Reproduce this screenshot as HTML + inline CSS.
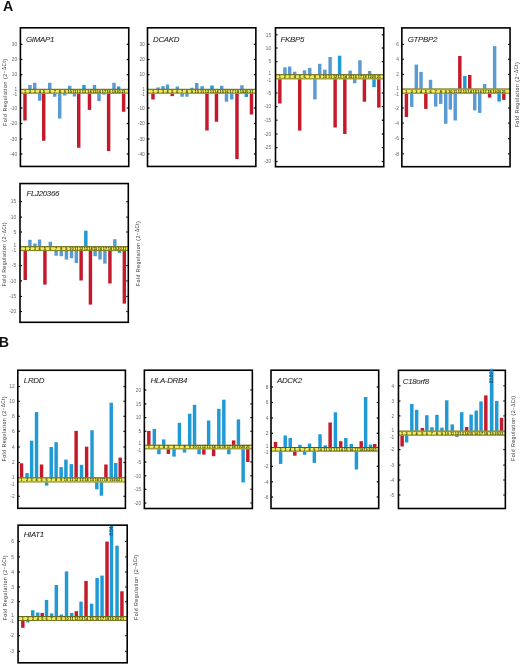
<!DOCTYPE html><html><head><meta charset="utf-8"><style>html,body{margin:0;padding:0;background:#fff;}body{width:520px;height:664px;overflow:hidden;position:relative;}svg{position:absolute;left:0;top:0;filter:blur(0.3px);}text{font-family:"Liberation Sans",sans-serif;}</style></head><body>
<svg width="520" height="664" viewBox="0 0 520 664">
<rect x="0" y="0" width="520" height="664" fill="#fff"/>
<text x="3.0" y="10.9" font-size="14.2" font-weight="bold" fill="#111">A</text>
<text x="-1.2" y="347.2" font-size="14.2" font-weight="bold" fill="#111">B</text>
<rect x="23.25" y="93.50" width="3.45" height="27.00" fill="#c41b2c"/>
<rect x="28.25" y="84.90" width="3.45" height="4.10" fill="#5b9bd3"/>
<rect x="33.00" y="82.75" width="3.45" height="6.25" fill="#5b9bd3"/>
<rect x="38.00" y="93.50" width="3.45" height="7.25" fill="#5b9bd3"/>
<rect x="42.00" y="93.50" width="3.45" height="47.25" fill="#c41b2c"/>
<rect x="48.00" y="82.75" width="3.45" height="6.25" fill="#5b9bd3"/>
<rect x="53.00" y="93.50" width="3.45" height="3.25" fill="#5b9bd3"/>
<rect x="58.00" y="93.50" width="3.45" height="25.10" fill="#5b9bd3"/>
<rect x="63.00" y="93.50" width="3.45" height="2.00" fill="#5b9bd3"/>
<rect x="68.00" y="85.75" width="3.45" height="3.25" fill="#5b9bd3"/>
<rect x="72.75" y="93.50" width="3.45" height="3.00" fill="#5b9bd3"/>
<rect x="77.00" y="93.50" width="3.45" height="54.25" fill="#c41b2c"/>
<rect x="82.25" y="84.90" width="3.45" height="4.10" fill="#1f9ad4"/>
<rect x="87.75" y="93.50" width="3.45" height="16.40" fill="#c41b2c"/>
<rect x="92.75" y="84.90" width="3.45" height="4.10" fill="#5b9bd3"/>
<rect x="97.25" y="93.50" width="3.45" height="7.60" fill="#5b9bd3"/>
<rect x="102.25" y="93.50" width="3.45" height="1.10" fill="#5b9bd3"/>
<rect x="106.90" y="93.50" width="3.45" height="57.60" fill="#c41b2c"/>
<rect x="112.25" y="82.75" width="3.45" height="6.25" fill="#5b9bd3"/>
<rect x="116.90" y="86.50" width="3.45" height="2.50" fill="#1f9ad4"/>
<rect x="121.90" y="93.50" width="3.45" height="18.25" fill="#c41b2c"/>
<rect x="20.40" y="89.00" width="108.35" height="4.50" fill="#f0ec5a"/>
<rect x="20.40" y="88.80" width="108.35" height="1.0" fill="#5a5c18"/>
<rect x="20.40" y="92.70" width="108.35" height="0.9" fill="#6a6c20"/>
<text x="24.98" y="92.65" font-size="3.9" text-anchor="middle" fill="#323a0a" font-weight="bold">1</text>
<text x="29.98" y="92.65" font-size="3.9" text-anchor="middle" fill="#323a0a" font-weight="bold">2</text>
<text x="34.73" y="92.65" font-size="3.9" text-anchor="middle" fill="#323a0a" font-weight="bold">3</text>
<text x="39.73" y="92.65" font-size="3.9" text-anchor="middle" fill="#323a0a" font-weight="bold">4</text>
<text x="43.73" y="92.65" font-size="3.9" text-anchor="middle" fill="#323a0a" font-weight="bold">5</text>
<text x="49.73" y="92.65" font-size="3.9" text-anchor="middle" fill="#323a0a" font-weight="bold">6</text>
<text x="54.73" y="92.65" font-size="3.9" text-anchor="middle" fill="#323a0a" font-weight="bold">7</text>
<text x="59.73" y="92.65" font-size="3.9" text-anchor="middle" fill="#323a0a" font-weight="bold">8</text>
<text x="64.72" y="92.65" font-size="3.9" text-anchor="middle" fill="#323a0a" font-weight="bold">9</text>
<text x="69.72" y="92.65" font-size="3.9" text-anchor="middle" fill="#323a0a" font-weight="bold">10</text>
<text x="74.47" y="92.65" font-size="3.9" text-anchor="middle" fill="#323a0a" font-weight="bold">11</text>
<text x="78.72" y="92.65" font-size="3.9" text-anchor="middle" fill="#323a0a" font-weight="bold">12</text>
<text x="83.97" y="92.65" font-size="3.9" text-anchor="middle" fill="#323a0a" font-weight="bold">13</text>
<text x="89.47" y="92.65" font-size="3.9" text-anchor="middle" fill="#323a0a" font-weight="bold">14</text>
<text x="94.47" y="92.65" font-size="3.9" text-anchor="middle" fill="#323a0a" font-weight="bold">15</text>
<text x="98.97" y="92.65" font-size="3.9" text-anchor="middle" fill="#323a0a" font-weight="bold">16</text>
<text x="103.97" y="92.65" font-size="3.9" text-anchor="middle" fill="#323a0a" font-weight="bold">17</text>
<text x="108.62" y="92.65" font-size="3.9" text-anchor="middle" fill="#323a0a" font-weight="bold">18</text>
<text x="113.97" y="92.65" font-size="3.9" text-anchor="middle" fill="#323a0a" font-weight="bold">19</text>
<text x="118.62" y="92.65" font-size="3.9" text-anchor="middle" fill="#323a0a" font-weight="bold">20</text>
<text x="123.62" y="92.65" font-size="3.9" text-anchor="middle" fill="#323a0a" font-weight="bold">21</text>
<rect x="20.40" y="27.80" width="108.35" height="138.65" fill="none" stroke="#000" stroke-width="1.6"/>
<text x="17.10" y="46.00" font-size="4.8" text-anchor="end" fill="#666">30</text>
<rect x="21.00" y="43.70" width="1.4" height="1.2" fill="#000"/>
<rect x="126.75" y="43.70" width="1.4" height="1.2" fill="#000"/>
<text x="17.10" y="61.20" font-size="4.8" text-anchor="end" fill="#666">20</text>
<rect x="21.00" y="58.90" width="1.4" height="1.2" fill="#000"/>
<rect x="126.75" y="58.90" width="1.4" height="1.2" fill="#000"/>
<text x="17.10" y="76.40" font-size="4.8" text-anchor="end" fill="#666">10</text>
<rect x="21.00" y="74.10" width="1.4" height="1.2" fill="#000"/>
<rect x="126.75" y="74.10" width="1.4" height="1.2" fill="#000"/>
<text x="17.10" y="90.70" font-size="4.8" text-anchor="end" fill="#666">1</text>
<text x="17.10" y="95.50" font-size="4.8" text-anchor="end" fill="#666">-1</text>
<text x="17.10" y="109.70" font-size="4.8" text-anchor="end" fill="#666">-10</text>
<rect x="21.00" y="107.40" width="1.4" height="1.2" fill="#000"/>
<rect x="126.75" y="107.40" width="1.4" height="1.2" fill="#000"/>
<text x="17.10" y="125.20" font-size="4.8" text-anchor="end" fill="#666">-20</text>
<rect x="21.00" y="122.90" width="1.4" height="1.2" fill="#000"/>
<rect x="126.75" y="122.90" width="1.4" height="1.2" fill="#000"/>
<text x="17.10" y="140.70" font-size="4.8" text-anchor="end" fill="#666">-30</text>
<rect x="21.00" y="138.40" width="1.4" height="1.2" fill="#000"/>
<rect x="126.75" y="138.40" width="1.4" height="1.2" fill="#000"/>
<text x="17.10" y="155.70" font-size="4.8" text-anchor="end" fill="#666">-40</text>
<rect x="21.00" y="153.40" width="1.4" height="1.2" fill="#000"/>
<rect x="126.75" y="153.40" width="1.4" height="1.2" fill="#000"/>
<text x="26.00" y="41.60" font-size="7.9" letter-spacing="-0.3" font-style="italic" fill="#1e1e1e" stroke="#1e1e1e" stroke-width="0.06">GIMAP1</text>
<rect x="151.25" y="93.50" width="3.45" height="6.00" fill="#c41b2c"/>
<rect x="156.40" y="87.40" width="3.45" height="1.60" fill="#5b9bd3"/>
<rect x="161.25" y="86.10" width="3.45" height="2.90" fill="#5b9bd3"/>
<rect x="165.80" y="84.50" width="3.45" height="4.50" fill="#5b9bd3"/>
<rect x="170.50" y="93.50" width="3.45" height="2.60" fill="#c41b2c"/>
<rect x="175.60" y="86.50" width="3.45" height="2.50" fill="#5b9bd3"/>
<rect x="180.40" y="93.50" width="3.45" height="3.25" fill="#5b9bd3"/>
<rect x="185.20" y="93.50" width="3.45" height="3.25" fill="#5b9bd3"/>
<rect x="190.20" y="87.75" width="3.45" height="1.25" fill="#5b9bd3"/>
<rect x="195.00" y="83.00" width="3.45" height="6.00" fill="#5b9bd3"/>
<rect x="200.40" y="86.10" width="3.45" height="2.90" fill="#5b9bd3"/>
<rect x="205.25" y="93.50" width="3.45" height="37.00" fill="#c41b2c"/>
<rect x="210.25" y="85.50" width="3.45" height="3.50" fill="#1f9ad4"/>
<rect x="214.75" y="93.50" width="3.45" height="28.25" fill="#c41b2c"/>
<rect x="220.00" y="85.75" width="3.45" height="3.25" fill="#5b9bd3"/>
<rect x="224.75" y="93.50" width="3.45" height="8.25" fill="#5b9bd3"/>
<rect x="230.00" y="93.50" width="3.45" height="6.00" fill="#5b9bd3"/>
<rect x="235.25" y="93.50" width="3.45" height="65.50" fill="#c41b2c"/>
<rect x="240.20" y="85.25" width="3.45" height="3.75" fill="#5b9bd3"/>
<rect x="244.60" y="93.50" width="3.45" height="3.50" fill="#1f9ad4"/>
<rect x="249.75" y="93.50" width="3.45" height="21.00" fill="#c41b2c"/>
<rect x="147.50" y="89.00" width="108.35" height="4.50" fill="#f0ec5a"/>
<rect x="147.50" y="88.80" width="108.35" height="1.0" fill="#5a5c18"/>
<rect x="147.50" y="92.70" width="108.35" height="0.9" fill="#6a6c20"/>
<text x="152.97" y="92.65" font-size="3.9" text-anchor="middle" fill="#323a0a" font-weight="bold">1</text>
<text x="158.12" y="92.65" font-size="3.9" text-anchor="middle" fill="#323a0a" font-weight="bold">2</text>
<text x="162.97" y="92.65" font-size="3.9" text-anchor="middle" fill="#323a0a" font-weight="bold">3</text>
<text x="167.53" y="92.65" font-size="3.9" text-anchor="middle" fill="#323a0a" font-weight="bold">4</text>
<text x="172.22" y="92.65" font-size="3.9" text-anchor="middle" fill="#323a0a" font-weight="bold">5</text>
<text x="177.32" y="92.65" font-size="3.9" text-anchor="middle" fill="#323a0a" font-weight="bold">6</text>
<text x="182.12" y="92.65" font-size="3.9" text-anchor="middle" fill="#323a0a" font-weight="bold">7</text>
<text x="186.92" y="92.65" font-size="3.9" text-anchor="middle" fill="#323a0a" font-weight="bold">8</text>
<text x="191.92" y="92.65" font-size="3.9" text-anchor="middle" fill="#323a0a" font-weight="bold">9</text>
<text x="196.72" y="92.65" font-size="3.9" text-anchor="middle" fill="#323a0a" font-weight="bold">10</text>
<text x="202.12" y="92.65" font-size="3.9" text-anchor="middle" fill="#323a0a" font-weight="bold">11</text>
<text x="206.97" y="92.65" font-size="3.9" text-anchor="middle" fill="#323a0a" font-weight="bold">12</text>
<text x="211.97" y="92.65" font-size="3.9" text-anchor="middle" fill="#323a0a" font-weight="bold">13</text>
<text x="216.47" y="92.65" font-size="3.9" text-anchor="middle" fill="#323a0a" font-weight="bold">14</text>
<text x="221.72" y="92.65" font-size="3.9" text-anchor="middle" fill="#323a0a" font-weight="bold">15</text>
<text x="226.47" y="92.65" font-size="3.9" text-anchor="middle" fill="#323a0a" font-weight="bold">16</text>
<text x="231.72" y="92.65" font-size="3.9" text-anchor="middle" fill="#323a0a" font-weight="bold">17</text>
<text x="236.97" y="92.65" font-size="3.9" text-anchor="middle" fill="#323a0a" font-weight="bold">18</text>
<text x="241.92" y="92.65" font-size="3.9" text-anchor="middle" fill="#323a0a" font-weight="bold">19</text>
<text x="246.32" y="92.65" font-size="3.9" text-anchor="middle" fill="#323a0a" font-weight="bold">20</text>
<text x="251.47" y="92.65" font-size="3.9" text-anchor="middle" fill="#323a0a" font-weight="bold">21</text>
<rect x="147.50" y="27.80" width="108.35" height="138.65" fill="none" stroke="#000" stroke-width="1.6"/>
<text x="144.80" y="46.00" font-size="4.8" text-anchor="end" fill="#666">30</text>
<rect x="148.10" y="43.70" width="1.4" height="1.2" fill="#000"/>
<rect x="253.85" y="43.70" width="1.4" height="1.2" fill="#000"/>
<text x="144.80" y="61.20" font-size="4.8" text-anchor="end" fill="#666">20</text>
<rect x="148.10" y="58.90" width="1.4" height="1.2" fill="#000"/>
<rect x="253.85" y="58.90" width="1.4" height="1.2" fill="#000"/>
<text x="144.80" y="76.40" font-size="4.8" text-anchor="end" fill="#666">10</text>
<rect x="148.10" y="74.10" width="1.4" height="1.2" fill="#000"/>
<rect x="253.85" y="74.10" width="1.4" height="1.2" fill="#000"/>
<text x="144.80" y="90.70" font-size="4.8" text-anchor="end" fill="#666">1</text>
<text x="144.80" y="95.50" font-size="4.8" text-anchor="end" fill="#666">-1</text>
<text x="144.80" y="109.70" font-size="4.8" text-anchor="end" fill="#666">-10</text>
<rect x="148.10" y="107.40" width="1.4" height="1.2" fill="#000"/>
<rect x="253.85" y="107.40" width="1.4" height="1.2" fill="#000"/>
<text x="144.80" y="125.20" font-size="4.8" text-anchor="end" fill="#666">-20</text>
<rect x="148.10" y="122.90" width="1.4" height="1.2" fill="#000"/>
<rect x="253.85" y="122.90" width="1.4" height="1.2" fill="#000"/>
<text x="144.80" y="140.70" font-size="4.8" text-anchor="end" fill="#666">-30</text>
<rect x="148.10" y="138.40" width="1.4" height="1.2" fill="#000"/>
<rect x="253.85" y="138.40" width="1.4" height="1.2" fill="#000"/>
<text x="144.80" y="155.70" font-size="4.8" text-anchor="end" fill="#666">-40</text>
<rect x="148.10" y="153.40" width="1.4" height="1.2" fill="#000"/>
<rect x="253.85" y="153.40" width="1.4" height="1.2" fill="#000"/>
<text x="153.00" y="41.60" font-size="7.9" letter-spacing="-0.3" font-style="italic" fill="#1e1e1e" stroke="#1e1e1e" stroke-width="0.06">DCAKD</text>
<rect x="278.10" y="79.20" width="3.45" height="24.30" fill="#c41b2c"/>
<rect x="283.20" y="67.30" width="3.45" height="7.10" fill="#5b9bd3"/>
<rect x="287.90" y="66.50" width="3.45" height="7.90" fill="#5b9bd3"/>
<rect x="293.00" y="71.70" width="3.45" height="2.70" fill="#5b9bd3"/>
<rect x="298.00" y="79.20" width="3.45" height="51.40" fill="#c41b2c"/>
<rect x="302.80" y="70.30" width="3.45" height="4.10" fill="#5b9bd3"/>
<rect x="308.00" y="67.90" width="3.45" height="6.50" fill="#5b9bd3"/>
<rect x="313.20" y="79.20" width="3.45" height="20.20" fill="#5b9bd3"/>
<rect x="318.00" y="63.80" width="3.45" height="10.60" fill="#5b9bd3"/>
<rect x="323.10" y="69.60" width="3.45" height="4.80" fill="#5b9bd3"/>
<rect x="328.40" y="57.00" width="3.45" height="17.40" fill="#5b9bd3"/>
<rect x="333.40" y="79.20" width="3.45" height="48.30" fill="#c41b2c"/>
<rect x="337.90" y="55.70" width="3.45" height="18.70" fill="#1f9ad4"/>
<rect x="343.10" y="79.20" width="3.45" height="54.80" fill="#c41b2c"/>
<rect x="348.40" y="70.60" width="3.45" height="3.80" fill="#5b9bd3"/>
<rect x="353.00" y="79.20" width="3.45" height="4.00" fill="#5b9bd3"/>
<rect x="358.20" y="60.20" width="3.45" height="14.20" fill="#5b9bd3"/>
<rect x="362.70" y="79.20" width="3.45" height="22.50" fill="#c41b2c"/>
<rect x="367.90" y="71.00" width="3.45" height="3.40" fill="#5b9bd3"/>
<rect x="372.30" y="79.20" width="3.45" height="8.00" fill="#1f9ad4"/>
<rect x="377.10" y="79.20" width="3.45" height="28.40" fill="#c41b2c"/>
<rect x="275.50" y="74.40" width="108.25" height="4.80" fill="#f0ec5a"/>
<rect x="275.50" y="74.20" width="108.25" height="1.0" fill="#5a5c18"/>
<rect x="275.50" y="78.40" width="108.25" height="0.9" fill="#6a6c20"/>
<text x="279.83" y="78.20" font-size="3.9" text-anchor="middle" fill="#323a0a" font-weight="bold">1</text>
<text x="284.93" y="78.20" font-size="3.9" text-anchor="middle" fill="#323a0a" font-weight="bold">2</text>
<text x="289.62" y="78.20" font-size="3.9" text-anchor="middle" fill="#323a0a" font-weight="bold">3</text>
<text x="294.73" y="78.20" font-size="3.9" text-anchor="middle" fill="#323a0a" font-weight="bold">4</text>
<text x="299.73" y="78.20" font-size="3.9" text-anchor="middle" fill="#323a0a" font-weight="bold">5</text>
<text x="304.53" y="78.20" font-size="3.9" text-anchor="middle" fill="#323a0a" font-weight="bold">6</text>
<text x="309.73" y="78.20" font-size="3.9" text-anchor="middle" fill="#323a0a" font-weight="bold">7</text>
<text x="314.93" y="78.20" font-size="3.9" text-anchor="middle" fill="#323a0a" font-weight="bold">8</text>
<text x="319.73" y="78.20" font-size="3.9" text-anchor="middle" fill="#323a0a" font-weight="bold">9</text>
<text x="324.83" y="78.20" font-size="3.9" text-anchor="middle" fill="#323a0a" font-weight="bold">10</text>
<text x="330.12" y="78.20" font-size="3.9" text-anchor="middle" fill="#323a0a" font-weight="bold">11</text>
<text x="335.12" y="78.20" font-size="3.9" text-anchor="middle" fill="#323a0a" font-weight="bold">12</text>
<text x="339.62" y="78.20" font-size="3.9" text-anchor="middle" fill="#323a0a" font-weight="bold">13</text>
<text x="344.83" y="78.20" font-size="3.9" text-anchor="middle" fill="#323a0a" font-weight="bold">14</text>
<text x="350.12" y="78.20" font-size="3.9" text-anchor="middle" fill="#323a0a" font-weight="bold">15</text>
<text x="354.73" y="78.20" font-size="3.9" text-anchor="middle" fill="#323a0a" font-weight="bold">16</text>
<text x="359.93" y="78.20" font-size="3.9" text-anchor="middle" fill="#323a0a" font-weight="bold">17</text>
<text x="364.43" y="78.20" font-size="3.9" text-anchor="middle" fill="#323a0a" font-weight="bold">18</text>
<text x="369.62" y="78.20" font-size="3.9" text-anchor="middle" fill="#323a0a" font-weight="bold">19</text>
<text x="374.03" y="78.20" font-size="3.9" text-anchor="middle" fill="#323a0a" font-weight="bold">20</text>
<text x="378.83" y="78.20" font-size="3.9" text-anchor="middle" fill="#323a0a" font-weight="bold">21</text>
<rect x="275.50" y="27.80" width="108.25" height="138.90" fill="none" stroke="#000" stroke-width="1.6"/>
<text x="271.20" y="36.50" font-size="4.8" text-anchor="end" fill="#666">15</text>
<rect x="276.10" y="34.20" width="1.4" height="1.2" fill="#000"/>
<rect x="381.75" y="34.20" width="1.4" height="1.2" fill="#000"/>
<text x="271.20" y="49.70" font-size="4.8" text-anchor="end" fill="#666">10</text>
<rect x="276.10" y="47.40" width="1.4" height="1.2" fill="#000"/>
<rect x="381.75" y="47.40" width="1.4" height="1.2" fill="#000"/>
<text x="271.20" y="63.40" font-size="4.8" text-anchor="end" fill="#666">5</text>
<rect x="276.10" y="61.10" width="1.4" height="1.2" fill="#000"/>
<rect x="381.75" y="61.10" width="1.4" height="1.2" fill="#000"/>
<text x="271.20" y="74.70" font-size="4.8" text-anchor="end" fill="#666">1</text>
<text x="271.20" y="81.90" font-size="4.8" text-anchor="end" fill="#666">-1</text>
<text x="271.20" y="94.70" font-size="4.8" text-anchor="end" fill="#666">-5</text>
<rect x="276.10" y="92.40" width="1.4" height="1.2" fill="#000"/>
<rect x="381.75" y="92.40" width="1.4" height="1.2" fill="#000"/>
<text x="271.20" y="108.30" font-size="4.8" text-anchor="end" fill="#666">-10</text>
<rect x="276.10" y="106.00" width="1.4" height="1.2" fill="#000"/>
<rect x="381.75" y="106.00" width="1.4" height="1.2" fill="#000"/>
<text x="271.20" y="121.90" font-size="4.8" text-anchor="end" fill="#666">-15</text>
<rect x="276.10" y="119.60" width="1.4" height="1.2" fill="#000"/>
<rect x="381.75" y="119.60" width="1.4" height="1.2" fill="#000"/>
<text x="271.20" y="135.70" font-size="4.8" text-anchor="end" fill="#666">-20</text>
<rect x="276.10" y="133.40" width="1.4" height="1.2" fill="#000"/>
<rect x="381.75" y="133.40" width="1.4" height="1.2" fill="#000"/>
<text x="271.20" y="149.30" font-size="4.8" text-anchor="end" fill="#666">-25</text>
<rect x="276.10" y="147.00" width="1.4" height="1.2" fill="#000"/>
<rect x="381.75" y="147.00" width="1.4" height="1.2" fill="#000"/>
<text x="271.20" y="163.20" font-size="4.8" text-anchor="end" fill="#666">-30</text>
<rect x="276.10" y="160.90" width="1.4" height="1.2" fill="#000"/>
<rect x="381.75" y="160.90" width="1.4" height="1.2" fill="#000"/>
<text x="280.60" y="41.60" font-size="7.9" letter-spacing="-0.3" font-style="italic" fill="#1e1e1e" stroke="#1e1e1e" stroke-width="0.06">FKBP5</text>
<rect x="404.70" y="93.50" width="3.45" height="23.50" fill="#c41b2c"/>
<rect x="410.00" y="93.50" width="3.45" height="13.40" fill="#5b9bd3"/>
<rect x="414.60" y="64.60" width="3.45" height="24.10" fill="#5b9bd3"/>
<rect x="419.30" y="71.90" width="3.45" height="16.80" fill="#5b9bd3"/>
<rect x="424.10" y="93.50" width="3.45" height="15.40" fill="#c41b2c"/>
<rect x="428.80" y="79.80" width="3.45" height="8.90" fill="#5b9bd3"/>
<rect x="434.00" y="93.50" width="3.45" height="13.10" fill="#5b9bd3"/>
<rect x="439.00" y="93.50" width="3.45" height="10.40" fill="#5b9bd3"/>
<rect x="444.00" y="93.50" width="3.45" height="30.30" fill="#5b9bd3"/>
<rect x="448.60" y="93.50" width="3.45" height="16.10" fill="#5b9bd3"/>
<rect x="453.50" y="93.50" width="3.45" height="27.00" fill="#5b9bd3"/>
<rect x="458.10" y="56.00" width="3.45" height="32.70" fill="#c41b2c"/>
<rect x="463.10" y="75.90" width="3.45" height="12.80" fill="#1f9ad4"/>
<rect x="468.00" y="74.90" width="3.45" height="13.80" fill="#c41b2c"/>
<rect x="473.00" y="93.50" width="3.45" height="16.90" fill="#5b9bd3"/>
<rect x="478.00" y="93.50" width="3.45" height="19.40" fill="#5b9bd3"/>
<rect x="482.90" y="84.00" width="3.45" height="4.70" fill="#5b9bd3"/>
<rect x="487.90" y="93.50" width="3.45" height="4.10" fill="#c41b2c"/>
<rect x="492.90" y="46.10" width="3.45" height="42.60" fill="#5b9bd3"/>
<rect x="497.40" y="93.50" width="3.45" height="8.10" fill="#1f9ad4"/>
<rect x="502.10" y="93.50" width="3.45" height="6.40" fill="#c41b2c"/>
<rect x="401.85" y="88.70" width="108.20" height="4.80" fill="#f0ec5a"/>
<rect x="401.85" y="88.50" width="108.20" height="1.0" fill="#5a5c18"/>
<rect x="401.85" y="92.70" width="108.20" height="0.9" fill="#6a6c20"/>
<text x="406.43" y="92.50" font-size="3.9" text-anchor="middle" fill="#323a0a" font-weight="bold">1</text>
<text x="411.73" y="92.50" font-size="3.9" text-anchor="middle" fill="#323a0a" font-weight="bold">2</text>
<text x="416.33" y="92.50" font-size="3.9" text-anchor="middle" fill="#323a0a" font-weight="bold">3</text>
<text x="421.03" y="92.50" font-size="3.9" text-anchor="middle" fill="#323a0a" font-weight="bold">4</text>
<text x="425.83" y="92.50" font-size="3.9" text-anchor="middle" fill="#323a0a" font-weight="bold">5</text>
<text x="430.53" y="92.50" font-size="3.9" text-anchor="middle" fill="#323a0a" font-weight="bold">6</text>
<text x="435.73" y="92.50" font-size="3.9" text-anchor="middle" fill="#323a0a" font-weight="bold">7</text>
<text x="440.73" y="92.50" font-size="3.9" text-anchor="middle" fill="#323a0a" font-weight="bold">8</text>
<text x="445.73" y="92.50" font-size="3.9" text-anchor="middle" fill="#323a0a" font-weight="bold">9</text>
<text x="450.33" y="92.50" font-size="3.9" text-anchor="middle" fill="#323a0a" font-weight="bold">10</text>
<text x="455.23" y="92.50" font-size="3.9" text-anchor="middle" fill="#323a0a" font-weight="bold">11</text>
<text x="459.83" y="92.50" font-size="3.9" text-anchor="middle" fill="#323a0a" font-weight="bold">12</text>
<text x="464.83" y="92.50" font-size="3.9" text-anchor="middle" fill="#323a0a" font-weight="bold">13</text>
<text x="469.73" y="92.50" font-size="3.9" text-anchor="middle" fill="#323a0a" font-weight="bold">14</text>
<text x="474.73" y="92.50" font-size="3.9" text-anchor="middle" fill="#323a0a" font-weight="bold">15</text>
<text x="479.73" y="92.50" font-size="3.9" text-anchor="middle" fill="#323a0a" font-weight="bold">16</text>
<text x="484.62" y="92.50" font-size="3.9" text-anchor="middle" fill="#323a0a" font-weight="bold">17</text>
<text x="489.62" y="92.50" font-size="3.9" text-anchor="middle" fill="#323a0a" font-weight="bold">18</text>
<text x="494.62" y="92.50" font-size="3.9" text-anchor="middle" fill="#323a0a" font-weight="bold">19</text>
<text x="499.12" y="92.50" font-size="3.9" text-anchor="middle" fill="#323a0a" font-weight="bold">20</text>
<text x="503.83" y="92.50" font-size="3.9" text-anchor="middle" fill="#323a0a" font-weight="bold">21</text>
<rect x="401.85" y="27.90" width="108.20" height="138.80" fill="none" stroke="#000" stroke-width="1.6"/>
<text x="398.85" y="46.10" font-size="4.8" text-anchor="end" fill="#666">6</text>
<rect x="402.45" y="43.80" width="1.4" height="1.2" fill="#000"/>
<rect x="508.05" y="43.80" width="1.4" height="1.2" fill="#000"/>
<text x="398.85" y="60.90" font-size="4.8" text-anchor="end" fill="#666">4</text>
<rect x="402.45" y="58.60" width="1.4" height="1.2" fill="#000"/>
<rect x="508.05" y="58.60" width="1.4" height="1.2" fill="#000"/>
<text x="398.85" y="76.10" font-size="4.8" text-anchor="end" fill="#666">2</text>
<rect x="402.45" y="73.80" width="1.4" height="1.2" fill="#000"/>
<rect x="508.05" y="73.80" width="1.4" height="1.2" fill="#000"/>
<text x="398.85" y="90.30" font-size="4.8" text-anchor="end" fill="#666">1</text>
<text x="398.85" y="95.50" font-size="4.8" text-anchor="end" fill="#666">-1</text>
<text x="398.85" y="109.70" font-size="4.8" text-anchor="end" fill="#666">-2</text>
<rect x="402.45" y="107.40" width="1.4" height="1.2" fill="#000"/>
<rect x="508.05" y="107.40" width="1.4" height="1.2" fill="#000"/>
<text x="398.85" y="124.80" font-size="4.8" text-anchor="end" fill="#666">-4</text>
<rect x="402.45" y="122.50" width="1.4" height="1.2" fill="#000"/>
<rect x="508.05" y="122.50" width="1.4" height="1.2" fill="#000"/>
<text x="398.85" y="140.40" font-size="4.8" text-anchor="end" fill="#666">-6</text>
<rect x="402.45" y="138.10" width="1.4" height="1.2" fill="#000"/>
<rect x="508.05" y="138.10" width="1.4" height="1.2" fill="#000"/>
<text x="398.85" y="155.50" font-size="4.8" text-anchor="end" fill="#666">-8</text>
<rect x="402.45" y="153.20" width="1.4" height="1.2" fill="#000"/>
<rect x="508.05" y="153.20" width="1.4" height="1.2" fill="#000"/>
<text x="407.70" y="41.60" font-size="7.9" letter-spacing="-0.3" font-style="italic" fill="#1e1e1e" stroke="#1e1e1e" stroke-width="0.06">GTPBP2</text>
<rect x="23.50" y="251.00" width="3.45" height="29.00" fill="#c41b2c"/>
<rect x="28.20" y="239.80" width="3.45" height="6.60" fill="#5b9bd3"/>
<rect x="33.20" y="243.50" width="3.45" height="2.90" fill="#5b9bd3"/>
<rect x="37.80" y="239.50" width="3.45" height="6.90" fill="#5b9bd3"/>
<rect x="43.20" y="251.00" width="3.45" height="33.60" fill="#c41b2c"/>
<rect x="48.60" y="241.80" width="3.45" height="4.60" fill="#5b9bd3"/>
<rect x="54.40" y="251.00" width="3.45" height="4.70" fill="#5b9bd3"/>
<rect x="59.60" y="251.00" width="3.45" height="5.20" fill="#5b9bd3"/>
<rect x="64.70" y="251.00" width="3.45" height="8.60" fill="#5b9bd3"/>
<rect x="69.80" y="251.00" width="3.45" height="7.20" fill="#5b9bd3"/>
<rect x="74.60" y="251.00" width="3.45" height="12.00" fill="#5b9bd3"/>
<rect x="79.40" y="251.00" width="3.45" height="29.50" fill="#c41b2c"/>
<rect x="84.10" y="230.70" width="3.45" height="15.70" fill="#1f9ad4"/>
<rect x="88.70" y="251.00" width="3.45" height="53.60" fill="#c41b2c"/>
<rect x="93.40" y="251.00" width="3.45" height="5.20" fill="#5b9bd3"/>
<rect x="98.30" y="251.00" width="3.45" height="8.50" fill="#5b9bd3"/>
<rect x="103.20" y="251.00" width="3.45" height="12.60" fill="#5b9bd3"/>
<rect x="108.20" y="251.00" width="3.45" height="32.50" fill="#c41b2c"/>
<rect x="113.10" y="239.20" width="3.45" height="7.20" fill="#5b9bd3"/>
<rect x="117.80" y="251.00" width="3.45" height="1.80" fill="#1f9ad4"/>
<rect x="122.60" y="251.00" width="3.45" height="52.60" fill="#c41b2c"/>
<rect x="20.00" y="246.40" width="108.30" height="4.60" fill="#f0ec5a"/>
<rect x="20.00" y="246.20" width="108.30" height="1.0" fill="#5a5c18"/>
<rect x="20.00" y="250.20" width="108.30" height="0.9" fill="#6a6c20"/>
<text x="25.23" y="250.10" font-size="3.9" text-anchor="middle" fill="#323a0a" font-weight="bold">1</text>
<text x="29.93" y="250.10" font-size="3.9" text-anchor="middle" fill="#323a0a" font-weight="bold">2</text>
<text x="34.93" y="250.10" font-size="3.9" text-anchor="middle" fill="#323a0a" font-weight="bold">3</text>
<text x="39.52" y="250.10" font-size="3.9" text-anchor="middle" fill="#323a0a" font-weight="bold">4</text>
<text x="44.93" y="250.10" font-size="3.9" text-anchor="middle" fill="#323a0a" font-weight="bold">5</text>
<text x="50.33" y="250.10" font-size="3.9" text-anchor="middle" fill="#323a0a" font-weight="bold">6</text>
<text x="56.12" y="250.10" font-size="3.9" text-anchor="middle" fill="#323a0a" font-weight="bold">7</text>
<text x="61.33" y="250.10" font-size="3.9" text-anchor="middle" fill="#323a0a" font-weight="bold">8</text>
<text x="66.42" y="250.10" font-size="3.9" text-anchor="middle" fill="#323a0a" font-weight="bold">9</text>
<text x="71.52" y="250.10" font-size="3.9" text-anchor="middle" fill="#323a0a" font-weight="bold">10</text>
<text x="76.32" y="250.10" font-size="3.9" text-anchor="middle" fill="#323a0a" font-weight="bold">11</text>
<text x="81.12" y="250.10" font-size="3.9" text-anchor="middle" fill="#323a0a" font-weight="bold">12</text>
<text x="85.82" y="250.10" font-size="3.9" text-anchor="middle" fill="#323a0a" font-weight="bold">13</text>
<text x="90.42" y="250.10" font-size="3.9" text-anchor="middle" fill="#323a0a" font-weight="bold">14</text>
<text x="95.12" y="250.10" font-size="3.9" text-anchor="middle" fill="#323a0a" font-weight="bold">15</text>
<text x="100.02" y="250.10" font-size="3.9" text-anchor="middle" fill="#323a0a" font-weight="bold">16</text>
<text x="104.92" y="250.10" font-size="3.9" text-anchor="middle" fill="#323a0a" font-weight="bold">17</text>
<text x="109.92" y="250.10" font-size="3.9" text-anchor="middle" fill="#323a0a" font-weight="bold">18</text>
<text x="114.82" y="250.10" font-size="3.9" text-anchor="middle" fill="#323a0a" font-weight="bold">19</text>
<text x="119.52" y="250.10" font-size="3.9" text-anchor="middle" fill="#323a0a" font-weight="bold">20</text>
<text x="124.32" y="250.10" font-size="3.9" text-anchor="middle" fill="#323a0a" font-weight="bold">21</text>
<rect x="20.00" y="183.55" width="108.30" height="138.75" fill="none" stroke="#000" stroke-width="1.6"/>
<text x="16.10" y="203.30" font-size="4.8" text-anchor="end" fill="#666">15</text>
<rect x="20.60" y="201.00" width="1.4" height="1.2" fill="#000"/>
<rect x="126.30" y="201.00" width="1.4" height="1.2" fill="#000"/>
<text x="16.10" y="218.80" font-size="4.8" text-anchor="end" fill="#666">10</text>
<rect x="20.60" y="216.50" width="1.4" height="1.2" fill="#000"/>
<rect x="126.30" y="216.50" width="1.4" height="1.2" fill="#000"/>
<text x="16.10" y="233.70" font-size="4.8" text-anchor="end" fill="#666">5</text>
<rect x="20.60" y="231.40" width="1.4" height="1.2" fill="#000"/>
<rect x="126.30" y="231.40" width="1.4" height="1.2" fill="#000"/>
<text x="16.10" y="247.10" font-size="4.8" text-anchor="end" fill="#666">1</text>
<text x="16.10" y="252.10" font-size="4.8" text-anchor="end" fill="#666">-1</text>
<text x="16.10" y="267.30" font-size="4.8" text-anchor="end" fill="#666">-5</text>
<rect x="20.60" y="265.00" width="1.4" height="1.2" fill="#000"/>
<rect x="126.30" y="265.00" width="1.4" height="1.2" fill="#000"/>
<text x="16.10" y="282.60" font-size="4.8" text-anchor="end" fill="#666">-10</text>
<rect x="20.60" y="280.30" width="1.4" height="1.2" fill="#000"/>
<rect x="126.30" y="280.30" width="1.4" height="1.2" fill="#000"/>
<text x="16.10" y="298.20" font-size="4.8" text-anchor="end" fill="#666">-15</text>
<rect x="20.60" y="295.90" width="1.4" height="1.2" fill="#000"/>
<rect x="126.30" y="295.90" width="1.4" height="1.2" fill="#000"/>
<text x="16.10" y="313.20" font-size="4.8" text-anchor="end" fill="#666">-20</text>
<rect x="20.60" y="310.90" width="1.4" height="1.2" fill="#000"/>
<rect x="126.30" y="310.90" width="1.4" height="1.2" fill="#000"/>
<text x="26.40" y="196.20" font-size="7.9" letter-spacing="-0.3" font-style="italic" fill="#1e1e1e" stroke="#1e1e1e" stroke-width="0.06">FLJ20366</text>
<rect x="19.80" y="463.30" width="3.45" height="14.20" fill="#c41b2c"/>
<rect x="25.30" y="473.10" width="3.45" height="4.40" fill="#1f9ad4"/>
<rect x="29.90" y="440.70" width="3.45" height="36.80" fill="#1f9ad4"/>
<rect x="34.80" y="412.10" width="3.45" height="65.40" fill="#1f9ad4"/>
<rect x="39.80" y="464.50" width="3.45" height="13.00" fill="#c41b2c"/>
<rect x="44.90" y="482.30" width="3.45" height="3.30" fill="#1f9ad4"/>
<rect x="49.50" y="447.00" width="3.45" height="30.50" fill="#1f9ad4"/>
<rect x="54.40" y="442.20" width="3.45" height="35.30" fill="#1f9ad4"/>
<rect x="59.40" y="467.10" width="3.45" height="10.40" fill="#1f9ad4"/>
<rect x="64.20" y="459.60" width="3.45" height="17.90" fill="#1f9ad4"/>
<rect x="69.60" y="464.10" width="3.45" height="13.40" fill="#1f9ad4"/>
<rect x="74.40" y="430.90" width="3.45" height="46.60" fill="#c41b2c"/>
<rect x="79.80" y="464.80" width="3.45" height="12.70" fill="#1f9ad4"/>
<rect x="84.90" y="446.70" width="3.45" height="30.80" fill="#c41b2c"/>
<rect x="90.30" y="430.20" width="3.45" height="47.30" fill="#1f9ad4"/>
<rect x="95.10" y="482.30" width="3.45" height="7.00" fill="#1f9ad4"/>
<rect x="99.70" y="482.30" width="3.45" height="13.40" fill="#1f9ad4"/>
<rect x="104.20" y="464.50" width="3.45" height="13.00" fill="#c41b2c"/>
<rect x="109.50" y="402.70" width="3.45" height="74.80" fill="#1f9ad4"/>
<rect x="114.00" y="463.00" width="3.45" height="14.50" fill="#1f9ad4"/>
<rect x="118.50" y="457.60" width="3.45" height="19.90" fill="#c41b2c"/>
<rect x="17.80" y="477.50" width="107.60" height="4.80" fill="#f0ec5a"/>
<rect x="17.80" y="477.30" width="107.60" height="1.0" fill="#5a5c18"/>
<rect x="17.80" y="481.50" width="107.60" height="0.9" fill="#6a6c20"/>
<text x="21.53" y="481.30" font-size="3.9" text-anchor="middle" fill="#323a0a" font-weight="bold">1</text>
<text x="27.03" y="481.30" font-size="3.9" text-anchor="middle" fill="#323a0a" font-weight="bold">2</text>
<text x="31.62" y="481.30" font-size="3.9" text-anchor="middle" fill="#323a0a" font-weight="bold">3</text>
<text x="36.52" y="481.30" font-size="3.9" text-anchor="middle" fill="#323a0a" font-weight="bold">4</text>
<text x="41.52" y="481.30" font-size="3.9" text-anchor="middle" fill="#323a0a" font-weight="bold">5</text>
<text x="46.62" y="481.30" font-size="3.9" text-anchor="middle" fill="#323a0a" font-weight="bold">6</text>
<text x="51.23" y="481.30" font-size="3.9" text-anchor="middle" fill="#323a0a" font-weight="bold">7</text>
<text x="56.12" y="481.30" font-size="3.9" text-anchor="middle" fill="#323a0a" font-weight="bold">8</text>
<text x="61.12" y="481.30" font-size="3.9" text-anchor="middle" fill="#323a0a" font-weight="bold">9</text>
<text x="65.92" y="481.30" font-size="3.9" text-anchor="middle" fill="#323a0a" font-weight="bold">10</text>
<text x="71.32" y="481.30" font-size="3.9" text-anchor="middle" fill="#323a0a" font-weight="bold">11</text>
<text x="76.12" y="481.30" font-size="3.9" text-anchor="middle" fill="#323a0a" font-weight="bold">12</text>
<text x="81.52" y="481.30" font-size="3.9" text-anchor="middle" fill="#323a0a" font-weight="bold">13</text>
<text x="86.62" y="481.30" font-size="3.9" text-anchor="middle" fill="#323a0a" font-weight="bold">14</text>
<text x="92.02" y="481.30" font-size="3.9" text-anchor="middle" fill="#323a0a" font-weight="bold">15</text>
<text x="96.82" y="481.30" font-size="3.9" text-anchor="middle" fill="#323a0a" font-weight="bold">16</text>
<text x="101.42" y="481.30" font-size="3.9" text-anchor="middle" fill="#323a0a" font-weight="bold">17</text>
<text x="105.92" y="481.30" font-size="3.9" text-anchor="middle" fill="#323a0a" font-weight="bold">18</text>
<text x="111.22" y="481.30" font-size="3.9" text-anchor="middle" fill="#323a0a" font-weight="bold">19</text>
<text x="115.72" y="481.30" font-size="3.9" text-anchor="middle" fill="#323a0a" font-weight="bold">20</text>
<text x="120.22" y="481.30" font-size="3.9" text-anchor="middle" fill="#323a0a" font-weight="bold">21</text>
<rect x="17.80" y="370.25" width="107.60" height="138.05" fill="none" stroke="#000" stroke-width="1.6"/>
<text x="14.60" y="388.20" font-size="4.8" text-anchor="end" fill="#666">12</text>
<rect x="18.40" y="385.90" width="1.4" height="1.2" fill="#000"/>
<rect x="123.40" y="385.90" width="1.4" height="1.2" fill="#000"/>
<text x="14.60" y="403.00" font-size="4.8" text-anchor="end" fill="#666">10</text>
<rect x="18.40" y="400.70" width="1.4" height="1.2" fill="#000"/>
<rect x="123.40" y="400.70" width="1.4" height="1.2" fill="#000"/>
<text x="14.60" y="418.00" font-size="4.8" text-anchor="end" fill="#666">8</text>
<rect x="18.40" y="415.70" width="1.4" height="1.2" fill="#000"/>
<rect x="123.40" y="415.70" width="1.4" height="1.2" fill="#000"/>
<text x="14.60" y="433.00" font-size="4.8" text-anchor="end" fill="#666">6</text>
<rect x="18.40" y="430.70" width="1.4" height="1.2" fill="#000"/>
<rect x="123.40" y="430.70" width="1.4" height="1.2" fill="#000"/>
<text x="14.60" y="448.70" font-size="4.8" text-anchor="end" fill="#666">4</text>
<rect x="18.40" y="446.40" width="1.4" height="1.2" fill="#000"/>
<rect x="123.40" y="446.40" width="1.4" height="1.2" fill="#000"/>
<text x="14.60" y="464.20" font-size="4.8" text-anchor="end" fill="#666">2</text>
<rect x="18.40" y="461.90" width="1.4" height="1.2" fill="#000"/>
<rect x="123.40" y="461.90" width="1.4" height="1.2" fill="#000"/>
<text x="14.60" y="478.70" font-size="4.8" text-anchor="end" fill="#666">1</text>
<text x="14.60" y="485.70" font-size="4.8" text-anchor="end" fill="#666">-1</text>
<text x="14.60" y="498.00" font-size="4.8" text-anchor="end" fill="#666">-2</text>
<rect x="18.40" y="495.70" width="1.4" height="1.2" fill="#000"/>
<rect x="123.40" y="495.70" width="1.4" height="1.2" fill="#000"/>
<text x="23.80" y="382.90" font-size="7.9" letter-spacing="-0.3" font-style="italic" fill="#1e1e1e" stroke="#1e1e1e" stroke-width="0.06">LRDD</text>
<rect x="147.10" y="430.90" width="3.45" height="14.00" fill="#c41b2c"/>
<rect x="152.60" y="428.90" width="3.45" height="16.00" fill="#1f9ad4"/>
<rect x="157.20" y="449.20" width="3.45" height="5.10" fill="#1f9ad4"/>
<rect x="162.00" y="439.40" width="3.45" height="5.50" fill="#1f9ad4"/>
<rect x="166.60" y="449.20" width="3.45" height="4.70" fill="#c41b2c"/>
<rect x="172.30" y="449.20" width="3.45" height="7.40" fill="#1f9ad4"/>
<rect x="177.70" y="422.80" width="3.45" height="22.10" fill="#1f9ad4"/>
<rect x="182.80" y="449.20" width="3.45" height="3.40" fill="#1f9ad4"/>
<rect x="188.00" y="413.70" width="3.45" height="31.20" fill="#1f9ad4"/>
<rect x="192.80" y="404.80" width="3.45" height="40.10" fill="#1f9ad4"/>
<rect x="197.35" y="449.20" width="3.45" height="5.10" fill="#1f9ad4"/>
<rect x="202.10" y="449.20" width="3.45" height="5.40" fill="#c41b2c"/>
<rect x="206.90" y="420.50" width="3.45" height="24.40" fill="#1f9ad4"/>
<rect x="211.90" y="449.20" width="3.45" height="7.00" fill="#c41b2c"/>
<rect x="217.10" y="408.80" width="3.45" height="36.10" fill="#1f9ad4"/>
<rect x="222.10" y="399.70" width="3.45" height="45.20" fill="#1f9ad4"/>
<rect x="227.10" y="449.20" width="3.45" height="5.10" fill="#1f9ad4"/>
<rect x="231.90" y="440.40" width="3.45" height="4.50" fill="#c41b2c"/>
<rect x="236.70" y="419.40" width="3.45" height="25.50" fill="#1f9ad4"/>
<rect x="241.40" y="449.20" width="3.45" height="33.20" fill="#1f9ad4"/>
<rect x="246.10" y="449.20" width="3.45" height="12.80" fill="#c41b2c"/>
<rect x="144.35" y="444.90" width="108.00" height="4.30" fill="#f0ec5a"/>
<rect x="144.35" y="444.70" width="108.00" height="1.0" fill="#5a5c18"/>
<rect x="144.35" y="448.40" width="108.00" height="0.9" fill="#6a6c20"/>
<text x="148.82" y="448.45" font-size="3.9" text-anchor="middle" fill="#323a0a" font-weight="bold">1</text>
<text x="154.32" y="448.45" font-size="3.9" text-anchor="middle" fill="#323a0a" font-weight="bold">2</text>
<text x="158.92" y="448.45" font-size="3.9" text-anchor="middle" fill="#323a0a" font-weight="bold">3</text>
<text x="163.72" y="448.45" font-size="3.9" text-anchor="middle" fill="#323a0a" font-weight="bold">4</text>
<text x="168.32" y="448.45" font-size="3.9" text-anchor="middle" fill="#323a0a" font-weight="bold">5</text>
<text x="174.03" y="448.45" font-size="3.9" text-anchor="middle" fill="#323a0a" font-weight="bold">6</text>
<text x="179.42" y="448.45" font-size="3.9" text-anchor="middle" fill="#323a0a" font-weight="bold">7</text>
<text x="184.53" y="448.45" font-size="3.9" text-anchor="middle" fill="#323a0a" font-weight="bold">8</text>
<text x="189.72" y="448.45" font-size="3.9" text-anchor="middle" fill="#323a0a" font-weight="bold">9</text>
<text x="194.53" y="448.45" font-size="3.9" text-anchor="middle" fill="#323a0a" font-weight="bold">10</text>
<text x="199.07" y="448.45" font-size="3.9" text-anchor="middle" fill="#323a0a" font-weight="bold">11</text>
<text x="203.82" y="448.45" font-size="3.9" text-anchor="middle" fill="#323a0a" font-weight="bold">12</text>
<text x="208.62" y="448.45" font-size="3.9" text-anchor="middle" fill="#323a0a" font-weight="bold">13</text>
<text x="213.62" y="448.45" font-size="3.9" text-anchor="middle" fill="#323a0a" font-weight="bold">14</text>
<text x="218.82" y="448.45" font-size="3.9" text-anchor="middle" fill="#323a0a" font-weight="bold">15</text>
<text x="223.82" y="448.45" font-size="3.9" text-anchor="middle" fill="#323a0a" font-weight="bold">16</text>
<text x="228.82" y="448.45" font-size="3.9" text-anchor="middle" fill="#323a0a" font-weight="bold">17</text>
<text x="233.62" y="448.45" font-size="3.9" text-anchor="middle" fill="#323a0a" font-weight="bold">18</text>
<text x="238.42" y="448.45" font-size="3.9" text-anchor="middle" fill="#323a0a" font-weight="bold">19</text>
<text x="243.12" y="448.45" font-size="3.9" text-anchor="middle" fill="#323a0a" font-weight="bold">20</text>
<text x="247.82" y="448.45" font-size="3.9" text-anchor="middle" fill="#323a0a" font-weight="bold">21</text>
<rect x="144.35" y="370.20" width="108.00" height="138.30" fill="none" stroke="#000" stroke-width="1.6"/>
<text x="141.15" y="391.70" font-size="4.8" text-anchor="end" fill="#666">20</text>
<rect x="144.95" y="389.40" width="1.4" height="1.2" fill="#000"/>
<rect x="250.35" y="389.40" width="1.4" height="1.2" fill="#000"/>
<text x="141.15" y="405.60" font-size="4.8" text-anchor="end" fill="#666">15</text>
<rect x="144.95" y="403.30" width="1.4" height="1.2" fill="#000"/>
<rect x="250.35" y="403.30" width="1.4" height="1.2" fill="#000"/>
<text x="141.15" y="419.30" font-size="4.8" text-anchor="end" fill="#666">10</text>
<rect x="144.95" y="417.00" width="1.4" height="1.2" fill="#000"/>
<rect x="250.35" y="417.00" width="1.4" height="1.2" fill="#000"/>
<text x="141.15" y="433.00" font-size="4.8" text-anchor="end" fill="#666">5</text>
<rect x="144.95" y="430.70" width="1.4" height="1.2" fill="#000"/>
<rect x="250.35" y="430.70" width="1.4" height="1.2" fill="#000"/>
<text x="141.15" y="445.20" font-size="4.8" text-anchor="end" fill="#666">1</text>
<text x="141.15" y="451.50" font-size="4.8" text-anchor="end" fill="#666">-1</text>
<text x="141.15" y="463.70" font-size="4.8" text-anchor="end" fill="#666">-5</text>
<rect x="144.95" y="461.40" width="1.4" height="1.2" fill="#000"/>
<rect x="250.35" y="461.40" width="1.4" height="1.2" fill="#000"/>
<text x="141.15" y="477.50" font-size="4.8" text-anchor="end" fill="#666">-10</text>
<rect x="144.95" y="475.20" width="1.4" height="1.2" fill="#000"/>
<rect x="250.35" y="475.20" width="1.4" height="1.2" fill="#000"/>
<text x="141.15" y="491.00" font-size="4.8" text-anchor="end" fill="#666">-15</text>
<rect x="144.95" y="488.70" width="1.4" height="1.2" fill="#000"/>
<rect x="250.35" y="488.70" width="1.4" height="1.2" fill="#000"/>
<text x="141.15" y="504.70" font-size="4.8" text-anchor="end" fill="#666">-20</text>
<rect x="144.95" y="502.40" width="1.4" height="1.2" fill="#000"/>
<rect x="250.35" y="502.40" width="1.4" height="1.2" fill="#000"/>
<text x="150.40" y="382.80" font-size="7.9" letter-spacing="-0.3" font-style="italic" fill="#1e1e1e" stroke="#1e1e1e" stroke-width="0.06">HLA-DRB4</text>
<rect x="273.80" y="441.90" width="3.45" height="5.30" fill="#c41b2c"/>
<rect x="278.90" y="451.50" width="3.45" height="12.40" fill="#1f9ad4"/>
<rect x="283.50" y="435.50" width="3.45" height="11.70" fill="#1f9ad4"/>
<rect x="288.50" y="438.00" width="3.45" height="9.20" fill="#1f9ad4"/>
<rect x="293.10" y="451.50" width="3.45" height="4.20" fill="#c41b2c"/>
<rect x="298.20" y="444.80" width="3.45" height="2.40" fill="#1f9ad4"/>
<rect x="302.90" y="451.50" width="3.45" height="3.30" fill="#1f9ad4"/>
<rect x="307.80" y="443.60" width="3.45" height="3.60" fill="#1f9ad4"/>
<rect x="312.60" y="451.50" width="3.45" height="11.40" fill="#1f9ad4"/>
<rect x="318.30" y="434.30" width="3.45" height="12.90" fill="#1f9ad4"/>
<rect x="323.60" y="445.30" width="3.45" height="1.90" fill="#1f9ad4"/>
<rect x="328.40" y="422.50" width="3.45" height="24.70" fill="#c41b2c"/>
<rect x="333.70" y="412.30" width="3.45" height="34.90" fill="#1f9ad4"/>
<rect x="339.00" y="441.20" width="3.45" height="6.00" fill="#c41b2c"/>
<rect x="344.10" y="438.00" width="3.45" height="9.20" fill="#1f9ad4"/>
<rect x="349.60" y="444.00" width="3.45" height="3.20" fill="#1f9ad4"/>
<rect x="354.70" y="451.50" width="3.45" height="18.00" fill="#1f9ad4"/>
<rect x="359.50" y="441.20" width="3.45" height="6.00" fill="#c41b2c"/>
<rect x="363.90" y="397.00" width="3.45" height="50.20" fill="#1f9ad4"/>
<rect x="368.80" y="444.50" width="3.45" height="2.70" fill="#1f9ad4"/>
<rect x="373.00" y="444.00" width="3.45" height="3.20" fill="#c41b2c"/>
<rect x="271.00" y="447.20" width="107.70" height="4.30" fill="#f0ec5a"/>
<rect x="271.00" y="447.00" width="107.70" height="1.0" fill="#5a5c18"/>
<rect x="271.00" y="450.70" width="107.70" height="0.9" fill="#6a6c20"/>
<text x="275.53" y="450.75" font-size="3.9" text-anchor="middle" fill="#323a0a" font-weight="bold">1</text>
<text x="280.62" y="450.75" font-size="3.9" text-anchor="middle" fill="#323a0a" font-weight="bold">2</text>
<text x="285.23" y="450.75" font-size="3.9" text-anchor="middle" fill="#323a0a" font-weight="bold">3</text>
<text x="290.23" y="450.75" font-size="3.9" text-anchor="middle" fill="#323a0a" font-weight="bold">4</text>
<text x="294.83" y="450.75" font-size="3.9" text-anchor="middle" fill="#323a0a" font-weight="bold">5</text>
<text x="299.93" y="450.75" font-size="3.9" text-anchor="middle" fill="#323a0a" font-weight="bold">6</text>
<text x="304.62" y="450.75" font-size="3.9" text-anchor="middle" fill="#323a0a" font-weight="bold">7</text>
<text x="309.53" y="450.75" font-size="3.9" text-anchor="middle" fill="#323a0a" font-weight="bold">8</text>
<text x="314.33" y="450.75" font-size="3.9" text-anchor="middle" fill="#323a0a" font-weight="bold">9</text>
<text x="320.03" y="450.75" font-size="3.9" text-anchor="middle" fill="#323a0a" font-weight="bold">10</text>
<text x="325.33" y="450.75" font-size="3.9" text-anchor="middle" fill="#323a0a" font-weight="bold">11</text>
<text x="330.12" y="450.75" font-size="3.9" text-anchor="middle" fill="#323a0a" font-weight="bold">12</text>
<text x="335.43" y="450.75" font-size="3.9" text-anchor="middle" fill="#323a0a" font-weight="bold">13</text>
<text x="340.73" y="450.75" font-size="3.9" text-anchor="middle" fill="#323a0a" font-weight="bold">14</text>
<text x="345.83" y="450.75" font-size="3.9" text-anchor="middle" fill="#323a0a" font-weight="bold">15</text>
<text x="351.33" y="450.75" font-size="3.9" text-anchor="middle" fill="#323a0a" font-weight="bold">16</text>
<text x="356.43" y="450.75" font-size="3.9" text-anchor="middle" fill="#323a0a" font-weight="bold">17</text>
<text x="361.23" y="450.75" font-size="3.9" text-anchor="middle" fill="#323a0a" font-weight="bold">18</text>
<text x="365.62" y="450.75" font-size="3.9" text-anchor="middle" fill="#323a0a" font-weight="bold">19</text>
<text x="370.53" y="450.75" font-size="3.9" text-anchor="middle" fill="#323a0a" font-weight="bold">20</text>
<text x="374.73" y="450.75" font-size="3.9" text-anchor="middle" fill="#323a0a" font-weight="bold">21</text>
<rect x="271.00" y="370.20" width="107.70" height="138.30" fill="none" stroke="#000" stroke-width="1.6"/>
<text x="268.40" y="388.70" font-size="4.8" text-anchor="end" fill="#666">8</text>
<rect x="271.60" y="386.40" width="1.4" height="1.2" fill="#000"/>
<rect x="376.70" y="386.40" width="1.4" height="1.2" fill="#000"/>
<text x="268.40" y="404.20" font-size="4.8" text-anchor="end" fill="#666">6</text>
<rect x="271.60" y="401.90" width="1.4" height="1.2" fill="#000"/>
<rect x="376.70" y="401.90" width="1.4" height="1.2" fill="#000"/>
<text x="268.40" y="419.70" font-size="4.8" text-anchor="end" fill="#666">4</text>
<rect x="271.60" y="417.40" width="1.4" height="1.2" fill="#000"/>
<rect x="376.70" y="417.40" width="1.4" height="1.2" fill="#000"/>
<text x="268.40" y="435.00" font-size="4.8" text-anchor="end" fill="#666">2</text>
<rect x="271.60" y="432.70" width="1.4" height="1.2" fill="#000"/>
<rect x="376.70" y="432.70" width="1.4" height="1.2" fill="#000"/>
<text x="268.40" y="448.00" font-size="4.8" text-anchor="end" fill="#666">1</text>
<text x="268.40" y="454.30" font-size="4.8" text-anchor="end" fill="#666">-1</text>
<text x="268.40" y="468.00" font-size="4.8" text-anchor="end" fill="#666">-2</text>
<rect x="271.60" y="465.70" width="1.4" height="1.2" fill="#000"/>
<rect x="376.70" y="465.70" width="1.4" height="1.2" fill="#000"/>
<text x="268.40" y="483.50" font-size="4.8" text-anchor="end" fill="#666">-4</text>
<rect x="271.60" y="481.20" width="1.4" height="1.2" fill="#000"/>
<rect x="376.70" y="481.20" width="1.4" height="1.2" fill="#000"/>
<text x="268.40" y="498.70" font-size="4.8" text-anchor="end" fill="#666">-6</text>
<rect x="271.60" y="496.40" width="1.4" height="1.2" fill="#000"/>
<rect x="376.70" y="496.40" width="1.4" height="1.2" fill="#000"/>
<text x="277.00" y="383.00" font-size="7.9" letter-spacing="-0.3" font-style="italic" fill="#1e1e1e" stroke="#1e1e1e" stroke-width="0.06">ADCK2</text>
<rect x="400.40" y="435.50" width="3.45" height="11.00" fill="#c41b2c"/>
<rect x="404.90" y="435.50" width="3.45" height="7.00" fill="#1f9ad4"/>
<rect x="410.10" y="404.00" width="3.45" height="26.80" fill="#1f9ad4"/>
<rect x="414.90" y="409.80" width="3.45" height="21.00" fill="#1f9ad4"/>
<rect x="420.60" y="428.00" width="3.45" height="2.80" fill="#c41b2c"/>
<rect x="425.10" y="415.20" width="3.45" height="15.60" fill="#1f9ad4"/>
<rect x="430.20" y="427.20" width="3.45" height="3.60" fill="#1f9ad4"/>
<rect x="435.20" y="414.80" width="3.45" height="16.00" fill="#1f9ad4"/>
<rect x="440.20" y="427.60" width="3.45" height="3.20" fill="#1f9ad4"/>
<rect x="445.00" y="400.30" width="3.45" height="30.50" fill="#1f9ad4"/>
<rect x="450.50" y="424.40" width="3.45" height="6.40" fill="#1f9ad4"/>
<rect x="455.20" y="435.50" width="3.45" height="1.10" fill="#2a3a5a"/>
<rect x="460.00" y="412.20" width="3.45" height="18.60" fill="#1f9ad4"/>
<rect x="464.90" y="427.00" width="3.45" height="3.80" fill="#c41b2c"/>
<rect x="469.40" y="414.60" width="3.45" height="16.20" fill="#1f9ad4"/>
<rect x="474.50" y="410.50" width="3.45" height="20.30" fill="#1f9ad4"/>
<rect x="479.30" y="401.40" width="3.45" height="29.40" fill="#1f9ad4"/>
<rect x="484.10" y="395.40" width="3.45" height="35.40" fill="#c41b2c"/>
<rect x="489.90" y="370.30" width="3.45" height="60.50" fill="#1f9ad4"/>
<rect x="495.00" y="400.90" width="3.45" height="29.90" fill="#1f9ad4"/>
<rect x="499.80" y="417.80" width="3.45" height="13.00" fill="#c41b2c"/>
<rect x="398.45" y="430.80" width="106.90" height="4.70" fill="#f0ec5a"/>
<rect x="398.45" y="430.60" width="106.90" height="1.0" fill="#5a5c18"/>
<rect x="398.45" y="434.70" width="106.90" height="0.9" fill="#6a6c20"/>
<text x="402.12" y="434.55" font-size="3.9" text-anchor="middle" fill="#323a0a" font-weight="bold">1</text>
<text x="406.62" y="434.55" font-size="3.9" text-anchor="middle" fill="#323a0a" font-weight="bold">2</text>
<text x="411.83" y="434.55" font-size="3.9" text-anchor="middle" fill="#323a0a" font-weight="bold">3</text>
<text x="416.62" y="434.55" font-size="3.9" text-anchor="middle" fill="#323a0a" font-weight="bold">4</text>
<text x="422.33" y="434.55" font-size="3.9" text-anchor="middle" fill="#323a0a" font-weight="bold">5</text>
<text x="426.83" y="434.55" font-size="3.9" text-anchor="middle" fill="#323a0a" font-weight="bold">6</text>
<text x="431.93" y="434.55" font-size="3.9" text-anchor="middle" fill="#323a0a" font-weight="bold">7</text>
<text x="436.93" y="434.55" font-size="3.9" text-anchor="middle" fill="#323a0a" font-weight="bold">8</text>
<text x="441.93" y="434.55" font-size="3.9" text-anchor="middle" fill="#323a0a" font-weight="bold">9</text>
<text x="446.73" y="434.55" font-size="3.9" text-anchor="middle" fill="#323a0a" font-weight="bold">10</text>
<text x="452.23" y="434.55" font-size="3.9" text-anchor="middle" fill="#323a0a" font-weight="bold">11</text>
<text x="456.93" y="434.55" font-size="3.9" text-anchor="middle" fill="#323a0a" font-weight="bold">12</text>
<text x="461.73" y="434.55" font-size="3.9" text-anchor="middle" fill="#323a0a" font-weight="bold">13</text>
<text x="466.62" y="434.55" font-size="3.9" text-anchor="middle" fill="#323a0a" font-weight="bold">14</text>
<text x="471.12" y="434.55" font-size="3.9" text-anchor="middle" fill="#323a0a" font-weight="bold">15</text>
<text x="476.23" y="434.55" font-size="3.9" text-anchor="middle" fill="#323a0a" font-weight="bold">16</text>
<text x="481.03" y="434.55" font-size="3.9" text-anchor="middle" fill="#323a0a" font-weight="bold">17</text>
<text x="485.83" y="434.55" font-size="3.9" text-anchor="middle" fill="#323a0a" font-weight="bold">18</text>
<text x="491.62" y="434.55" font-size="3.9" text-anchor="middle" fill="#323a0a" font-weight="bold">19</text>
<text x="496.73" y="434.55" font-size="3.9" text-anchor="middle" fill="#323a0a" font-weight="bold">20</text>
<text x="501.53" y="434.55" font-size="3.9" text-anchor="middle" fill="#323a0a" font-weight="bold">21</text>
<rect x="398.45" y="370.30" width="106.90" height="138.20" fill="none" stroke="#000" stroke-width="1.6"/>
<text x="394.25" y="387.50" font-size="4.8" text-anchor="end" fill="#666">4</text>
<rect x="399.05" y="385.20" width="1.4" height="1.2" fill="#000"/>
<rect x="503.35" y="385.20" width="1.4" height="1.2" fill="#000"/>
<text x="394.25" y="402.70" font-size="4.8" text-anchor="end" fill="#666">3</text>
<rect x="399.05" y="400.40" width="1.4" height="1.2" fill="#000"/>
<rect x="503.35" y="400.40" width="1.4" height="1.2" fill="#000"/>
<text x="394.25" y="417.60" font-size="4.8" text-anchor="end" fill="#666">2</text>
<rect x="399.05" y="415.30" width="1.4" height="1.2" fill="#000"/>
<rect x="503.35" y="415.30" width="1.4" height="1.2" fill="#000"/>
<text x="394.25" y="431.80" font-size="4.8" text-anchor="end" fill="#666">1</text>
<text x="394.25" y="438.50" font-size="4.8" text-anchor="end" fill="#666">-1</text>
<text x="394.25" y="451.30" font-size="4.8" text-anchor="end" fill="#666">-2</text>
<rect x="399.05" y="449.00" width="1.4" height="1.2" fill="#000"/>
<rect x="503.35" y="449.00" width="1.4" height="1.2" fill="#000"/>
<text x="394.25" y="466.80" font-size="4.8" text-anchor="end" fill="#666">-3</text>
<rect x="399.05" y="464.50" width="1.4" height="1.2" fill="#000"/>
<rect x="503.35" y="464.50" width="1.4" height="1.2" fill="#000"/>
<text x="394.25" y="481.70" font-size="4.8" text-anchor="end" fill="#666">-4</text>
<rect x="399.05" y="479.40" width="1.4" height="1.2" fill="#000"/>
<rect x="503.35" y="479.40" width="1.4" height="1.2" fill="#000"/>
<text x="394.25" y="496.70" font-size="4.8" text-anchor="end" fill="#666">-5</text>
<rect x="399.05" y="494.40" width="1.4" height="1.2" fill="#000"/>
<rect x="503.35" y="494.40" width="1.4" height="1.2" fill="#000"/>
<rect x="489.90" y="368.70" width="3.45" height="62.10" fill="#1f9ad4" fill-opacity="0.7"/>
<text transform="translate(493.23,371.80) rotate(-90)" text-anchor="end" font-size="4.6" fill="#0e3050">23.87</text>
<text x="402.80" y="383.50" font-size="7.9" letter-spacing="-0.3" font-style="italic" fill="#1e1e1e" stroke="#1e1e1e" stroke-width="0.06">C18orf8</text>
<rect x="21.10" y="620.80" width="3.45" height="7.00" fill="#c41b2c"/>
<rect x="26.10" y="620.80" width="3.45" height="1.60" fill="#1f9ad4"/>
<rect x="31.00" y="610.20" width="3.45" height="6.10" fill="#1f9ad4"/>
<rect x="36.00" y="612.50" width="3.45" height="3.80" fill="#1f9ad4"/>
<rect x="40.50" y="612.90" width="3.45" height="3.40" fill="#c41b2c"/>
<rect x="44.80" y="599.90" width="3.45" height="16.40" fill="#1f9ad4"/>
<rect x="49.90" y="613.40" width="3.45" height="2.90" fill="#1f9ad4"/>
<rect x="54.60" y="585.00" width="3.45" height="31.30" fill="#1f9ad4"/>
<rect x="59.70" y="614.50" width="3.45" height="1.80" fill="#1f9ad4"/>
<rect x="64.80" y="571.40" width="3.45" height="44.90" fill="#1f9ad4"/>
<rect x="69.95" y="612.90" width="3.45" height="3.40" fill="#1f9ad4"/>
<rect x="74.60" y="611.20" width="3.45" height="5.10" fill="#c41b2c"/>
<rect x="79.30" y="601.60" width="3.45" height="14.70" fill="#1f9ad4"/>
<rect x="84.30" y="581.00" width="3.45" height="35.30" fill="#c41b2c"/>
<rect x="89.90" y="603.70" width="3.45" height="12.60" fill="#1f9ad4"/>
<rect x="95.40" y="578.00" width="3.45" height="38.30" fill="#1f9ad4"/>
<rect x="100.30" y="575.60" width="3.45" height="40.70" fill="#1f9ad4"/>
<rect x="105.30" y="541.60" width="3.45" height="74.70" fill="#c41b2c"/>
<rect x="109.80" y="525.20" width="3.45" height="91.10" fill="#1f9ad4"/>
<rect x="115.30" y="545.70" width="3.45" height="70.60" fill="#1f9ad4"/>
<rect x="120.20" y="591.30" width="3.45" height="25.00" fill="#c41b2c"/>
<rect x="18.05" y="616.30" width="109.15" height="4.50" fill="#f0ec5a"/>
<rect x="18.05" y="616.10" width="109.15" height="1.0" fill="#5a5c18"/>
<rect x="18.05" y="620.00" width="109.15" height="0.9" fill="#6a6c20"/>
<text x="22.83" y="619.95" font-size="3.9" text-anchor="middle" fill="#323a0a" font-weight="bold">1</text>
<text x="27.83" y="619.95" font-size="3.9" text-anchor="middle" fill="#323a0a" font-weight="bold">2</text>
<text x="32.73" y="619.95" font-size="3.9" text-anchor="middle" fill="#323a0a" font-weight="bold">3</text>
<text x="37.73" y="619.95" font-size="3.9" text-anchor="middle" fill="#323a0a" font-weight="bold">4</text>
<text x="42.23" y="619.95" font-size="3.9" text-anchor="middle" fill="#323a0a" font-weight="bold">5</text>
<text x="46.52" y="619.95" font-size="3.9" text-anchor="middle" fill="#323a0a" font-weight="bold">6</text>
<text x="51.62" y="619.95" font-size="3.9" text-anchor="middle" fill="#323a0a" font-weight="bold">7</text>
<text x="56.33" y="619.95" font-size="3.9" text-anchor="middle" fill="#323a0a" font-weight="bold">8</text>
<text x="61.43" y="619.95" font-size="3.9" text-anchor="middle" fill="#323a0a" font-weight="bold">9</text>
<text x="66.52" y="619.95" font-size="3.9" text-anchor="middle" fill="#323a0a" font-weight="bold">10</text>
<text x="71.67" y="619.95" font-size="3.9" text-anchor="middle" fill="#323a0a" font-weight="bold">11</text>
<text x="76.32" y="619.95" font-size="3.9" text-anchor="middle" fill="#323a0a" font-weight="bold">12</text>
<text x="81.02" y="619.95" font-size="3.9" text-anchor="middle" fill="#323a0a" font-weight="bold">13</text>
<text x="86.02" y="619.95" font-size="3.9" text-anchor="middle" fill="#323a0a" font-weight="bold">14</text>
<text x="91.62" y="619.95" font-size="3.9" text-anchor="middle" fill="#323a0a" font-weight="bold">15</text>
<text x="97.12" y="619.95" font-size="3.9" text-anchor="middle" fill="#323a0a" font-weight="bold">16</text>
<text x="102.02" y="619.95" font-size="3.9" text-anchor="middle" fill="#323a0a" font-weight="bold">17</text>
<text x="107.02" y="619.95" font-size="3.9" text-anchor="middle" fill="#323a0a" font-weight="bold">18</text>
<text x="111.52" y="619.95" font-size="3.9" text-anchor="middle" fill="#323a0a" font-weight="bold">19</text>
<text x="117.02" y="619.95" font-size="3.9" text-anchor="middle" fill="#323a0a" font-weight="bold">20</text>
<text x="121.92" y="619.95" font-size="3.9" text-anchor="middle" fill="#323a0a" font-weight="bold">21</text>
<rect x="18.05" y="525.15" width="109.15" height="137.65" fill="none" stroke="#000" stroke-width="1.6"/>
<text x="13.95" y="543.20" font-size="4.8" text-anchor="end" fill="#666">6</text>
<rect x="18.65" y="540.90" width="1.4" height="1.2" fill="#000"/>
<rect x="125.20" y="540.90" width="1.4" height="1.2" fill="#000"/>
<text x="13.95" y="558.60" font-size="4.8" text-anchor="end" fill="#666">5</text>
<rect x="18.65" y="556.30" width="1.4" height="1.2" fill="#000"/>
<rect x="125.20" y="556.30" width="1.4" height="1.2" fill="#000"/>
<text x="13.95" y="573.70" font-size="4.8" text-anchor="end" fill="#666">4</text>
<rect x="18.65" y="571.40" width="1.4" height="1.2" fill="#000"/>
<rect x="125.20" y="571.40" width="1.4" height="1.2" fill="#000"/>
<text x="13.95" y="588.70" font-size="4.8" text-anchor="end" fill="#666">3</text>
<rect x="18.65" y="586.40" width="1.4" height="1.2" fill="#000"/>
<rect x="125.20" y="586.40" width="1.4" height="1.2" fill="#000"/>
<text x="13.95" y="603.40" font-size="4.8" text-anchor="end" fill="#666">2</text>
<rect x="18.65" y="601.10" width="1.4" height="1.2" fill="#000"/>
<rect x="125.20" y="601.10" width="1.4" height="1.2" fill="#000"/>
<text x="13.95" y="616.50" font-size="4.8" text-anchor="end" fill="#666">1</text>
<text x="13.95" y="622.90" font-size="4.8" text-anchor="end" fill="#666">-1</text>
<text x="13.95" y="637.40" font-size="4.8" text-anchor="end" fill="#666">-2</text>
<rect x="18.65" y="635.10" width="1.4" height="1.2" fill="#000"/>
<rect x="125.20" y="635.10" width="1.4" height="1.2" fill="#000"/>
<text x="13.95" y="653.00" font-size="4.8" text-anchor="end" fill="#666">-3</text>
<rect x="18.65" y="650.70" width="1.4" height="1.2" fill="#000"/>
<rect x="125.20" y="650.70" width="1.4" height="1.2" fill="#000"/>
<text transform="translate(113.12,526.60) rotate(-90)" text-anchor="end" font-size="4.6" fill="#0e3050">8.54</text>
<text x="23.70" y="537.00" font-size="7.9" letter-spacing="-0.3" font-style="italic" fill="#1e1e1e" stroke="#1e1e1e" stroke-width="0.06">HIAT1</text>
<text transform="translate(6.60,126.00) rotate(-90)" font-size="5.3" fill="#333" textLength="67" lengthAdjust="spacing">Fold Regulation (2<tspan font-size="4.6" dy="-0.9">−ΔCt</tspan><tspan dy="0.9">)</tspan></text>
<text transform="translate(518.90,127.30) rotate(-90)" font-size="5.3" fill="#333" textLength="65" lengthAdjust="spacing">Fold Regulation (2<tspan font-size="4.6" dy="-0.9">−ΔCt</tspan><tspan dy="0.9">)</tspan></text>
<text transform="translate(6.40,286.60) rotate(-90)" font-size="5.3" fill="#333" textLength="64" lengthAdjust="spacing">Fold Regulation (2<tspan font-size="4.6" dy="-0.9">−ΔCt</tspan><tspan dy="0.9">)</tspan></text>
<text transform="translate(140.30,286.20) rotate(-90)" font-size="5.3" fill="#333" textLength="65" lengthAdjust="spacing">Fold Regulation (2<tspan font-size="4.6" dy="-0.9">−ΔCt</tspan><tspan dy="0.9">)</tspan></text>
<text transform="translate(5.80,461.50) rotate(-90)" font-size="5.3" fill="#333" textLength="65" lengthAdjust="spacing">Fold Regulation (2<tspan font-size="4.6" dy="-0.9">−ΔCt</tspan><tspan dy="0.9">)</tspan></text>
<text transform="translate(515.40,461.00) rotate(-90)" font-size="5.3" fill="#333" textLength="65" lengthAdjust="spacing">Fold Regulation (2<tspan font-size="4.6" dy="-0.9">−ΔCt</tspan><tspan dy="0.9">)</tspan></text>
<text transform="translate(7.00,620.50) rotate(-90)" font-size="5.3" fill="#333" textLength="65" lengthAdjust="spacing">Fold Regulation (2<tspan font-size="4.6" dy="-0.9">−ΔCt</tspan><tspan dy="0.9">)</tspan></text>
<text transform="translate(137.50,619.90) rotate(-90)" font-size="5.3" fill="#333" textLength="65" lengthAdjust="spacing">Fold Regulation (2<tspan font-size="4.6" dy="-0.9">−ΔCt</tspan><tspan dy="0.9">)</tspan></text>
</svg></body></html>
